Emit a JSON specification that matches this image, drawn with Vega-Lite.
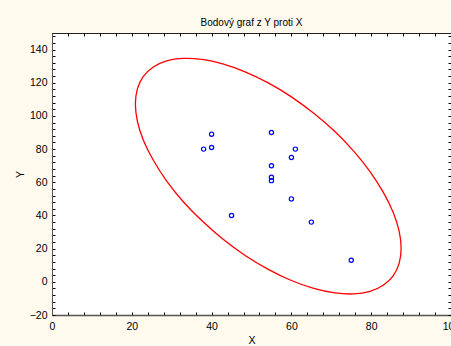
{
  "$schema": "https://vega.github.io/schema/vega-lite/v6.json",
  "width": 399,
  "height": 282,
  "autosize": "none",
  "padding": {"left": 52, "top": 33, "right": 0, "bottom": 31},
  "background": "#fff9ee",
  "title": {"text": "Bodový graf z Y proti X", "fontSize": 10, "font": "Liberation Sans", "fontWeight": "normal", "color": "#000000", "anchor": "middle", "baseline": "alphabetic", "offset": -4.5},
  "config": {
    "view": {"fill": "white", "stroke": "#222222", "strokeWidth": 1},
    "axis": {"labelFont": "Liberation Sans", "titleFont": "Liberation Sans", "labelFontSize": 10.5, "titleFontSize": 10.5, "titleFontWeight": "normal", "labelColor": "#000000", "titleColor": "#000000", "grid": false, "tickColor": "#000000", "tickWidth": 1, "domainColor": "#555555", "labelFlush": false, "labelOverlap": false}
  },
  "datasets": {
    "points": [
      {"X": 40, "Y": 89}, {"X": 38, "Y": 80}, {"X": 40, "Y": 81}, {"X": 55, "Y": 90},
      {"X": 61, "Y": 80}, {"X": 60, "Y": 75}, {"X": 55, "Y": 70}, {"X": 55, "Y": 63},
      {"X": 55, "Y": 61}, {"X": 60, "Y": 50}, {"X": 45, "Y": 40}, {"X": 65, "Y": 36},
      {"X": 75, "Y": 13}
    ],
    "ellipse": [
      {"t": 0, "x": 87.5, "y": 20.2}, {"t": 10, "x": 87.0, "y": 30.6}, {"t": 20, "x": 85.5, "y": 42.0},
      {"t": 30, "x": 83.0, "y": 54.1}, {"t": 40, "x": 79.7, "y": 66.5}, {"t": 50, "x": 75.6, "y": 78.8},
      {"t": 60, "x": 70.9, "y": 90.6}, {"t": 70, "x": 65.6, "y": 101.6}, {"t": 80, "x": 60.0, "y": 111.5},
      {"t": 90, "x": 54.2, "y": 119.9}, {"t": 100, "x": 48.4, "y": 126.6}, {"t": 110, "x": 42.8, "y": 131.4},
      {"t": 120, "x": 37.6, "y": 134.1}, {"t": 130, "x": 32.8, "y": 134.7}, {"t": 140, "x": 28.7, "y": 133.2},
      {"t": 150, "x": 25.4, "y": 129.5}, {"t": 160, "x": 22.9, "y": 123.8}, {"t": 170, "x": 21.4, "y": 116.3},
      {"t": 180, "x": 20.9, "y": 107.2}, {"t": 190, "x": 21.4, "y": 96.8}, {"t": 200, "x": 22.9, "y": 85.4},
      {"t": 210, "x": 25.4, "y": 73.3}, {"t": 220, "x": 28.7, "y": 60.9}, {"t": 230, "x": 32.8, "y": 48.6},
      {"t": 240, "x": 37.6, "y": 36.8}, {"t": 250, "x": 42.8, "y": 25.8}, {"t": 260, "x": 48.4, "y": 15.9},
      {"t": 270, "x": 54.2, "y": 7.5}, {"t": 280, "x": 60.0, "y": 0.8}, {"t": 290, "x": 65.6, "y": -4.0},
      {"t": 300, "x": 70.9, "y": -6.7}, {"t": 310, "x": 75.6, "y": -7.3}, {"t": 320, "x": 79.7, "y": -5.8},
      {"t": 330, "x": 83.0, "y": -2.1}, {"t": 340, "x": 85.5, "y": 3.6}, {"t": 350, "x": 87.0, "y": 11.1}
    ]
  },
  "layer": [
    {
      "data": {"name": "ellipse"},
      "mark": {"type": "line", "color": "#ff0000", "strokeWidth": 1.3, "interpolate": "cardinal-closed", "clip": true},
      "encoding": {
        "x": {"field": "x", "type": "quantitative", "scale": {"domain": [0, 100], "nice": false, "zero": false},
              "axis": {"orient": "top", "title": null, "labels": false, "domain": false, "tickSize": -3,
                       "values": [0,4,8,12,16,20,24,28,32,36,40,44,48,52,56,60,64,68,72,76,80,84,88,92,96,100]}},
        "y": {"field": "y", "type": "quantitative", "scale": {"domain": [-20, 150], "nice": false, "zero": false},
              "axis": {"orient": "right", "title": null, "labels": false, "domain": false, "tickSize": -3,
                       "values": [-20,-16,-12,-8,-4,0,4,8,12,16,20,24,28,32,36,40,44,48,52,56,60,64,68,72,76,80,84,88,92,96,100,104,108,112,116,120,124,128,132,136,140,144,148]}},
        "order": {"field": "t", "type": "quantitative"}
      }
    },
    {
      "data": {"name": "points"},
      "mark": {"type": "point", "shape": "circle", "filled": false, "color": "#0000ff", "size": 18, "strokeWidth": 1.2, "opacity": 1},
      "encoding": {
        "x": {"field": "X", "type": "quantitative",
              "axis": {"orient": "bottom", "title": "X", "tickSize": -3, "labelPadding": 9, "titlePadding": 4, "domainWidth": 1.5,
                       "values": [0,4,8,12,16,20,24,28,32,36,40,44,48,52,56,60,64,68,72,76,80,84,88,92,96,100],
                       "labelExpr": "datum.value % 20 == 0 ? datum.label : ''"}},
        "y": {"field": "Y", "type": "quantitative",
              "axis": {"orient": "left", "title": "Y", "tickSize": -3, "labelPadding": 8, "titlePadding": 4, "domainWidth": 1,
                       "values": [-20,-16,-12,-8,-4,0,4,8,12,16,20,24,28,32,36,40,44,48,52,56,60,64,68,72,76,80,84,88,92,96,100,104,108,112,116,120,124,128,132,136,140,144,148],
                       "labelExpr": "datum.value % 20 == 0 ? datum.label : ''"}}
      }
    }
  ],
  "resolve": {"axis": {"x": "independent", "y": "independent"}}
}
